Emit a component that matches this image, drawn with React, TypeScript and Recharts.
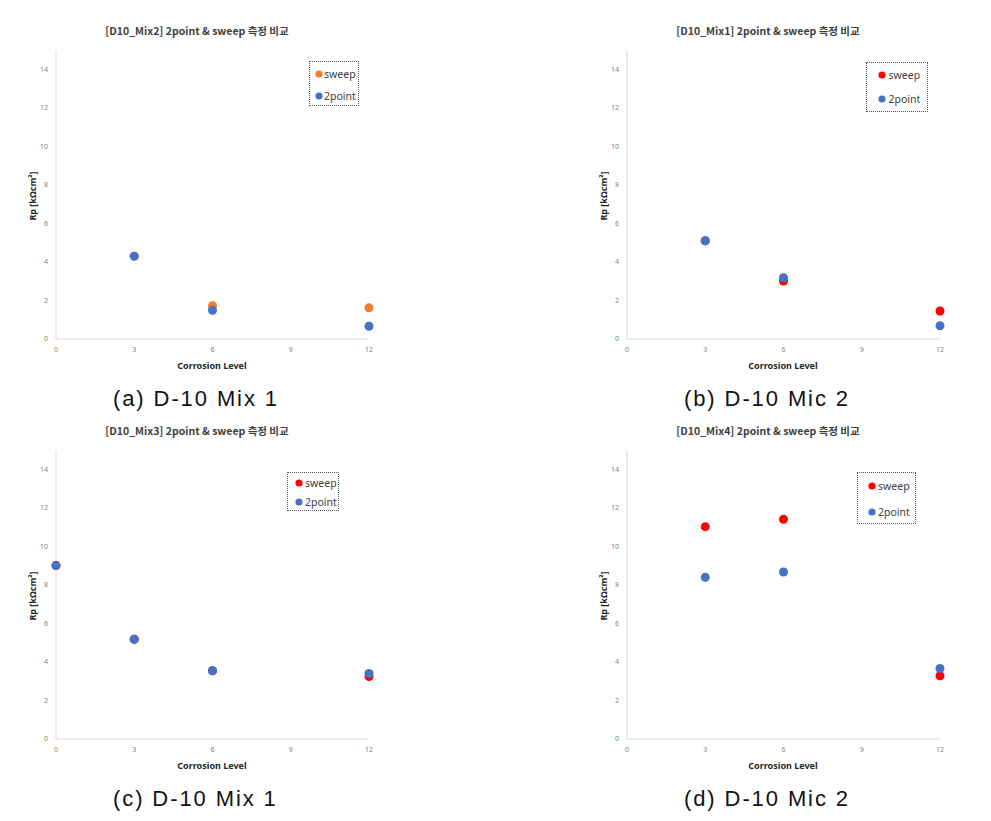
import React from "react";
import { ScatterChart, Scatter, XAxis, YAxis, ZAxis, Legend } from "recharts";

// corrosion level (x) and Rp values (y)
const levelsA = [3, 6, 12];
const sweepA = [4.3, 1.73, 1.62];
const twoPointA = [4.3, 1.49, 0.66];

const levelsB = [3, 6, 12];
const sweepB = [5.1, 3.01, 1.45];
const twoPointB = [5.1, 3.18, 0.69];

const levelsC = [0, 3, 6, 12];
const sweepC = [9.0, 5.18, 3.54, 3.24];
const twoPointC = [9.0, 5.18, 3.54, 3.4];

const levelsD = [3, 6, 12];
const sweepD = [11.02, 11.4, 3.28];
const twoPointD = [8.39, 8.67, 3.66];

const seriesNames = ["sweep", "2point"];
const xTicks = [0, 3, 6, 9, 12];
const yTicks = [0, 2, 4, 6, 8, 10, 12, 14];

const BLUE = "#4472C4";
const RED = "#FF0000";
const ORANGE = "#ED7D31";

const toPoints = (xs: number[], ys: number[]) => xs.map((x, i) => ({ x, y: ys[i] }));

interface LegendCfg {
  left: number;
  top: number;
  w: number;
  h: number;
  dotX: number;
  rows: number[];
  textX: number;
}

interface PanelCfg {
  key: string;
  left: number;
  top: number;
  title: string;
  caption: string;
  levels: number[];
  sweep: number[];
  twoPoint: number[];
  sweepColor: string;
  dotArea: number;
  legend: LegendCfg;
}

const panels: PanelCfg[] = [
  {
    key: "a", left: 0, top: 0,
    title: "[D10_Mix2] 2point & sweep 측정 비교",
    caption: "(a) D-10 Mix 1",
    levels: levelsA, sweep: sweepA, twoPoint: twoPointA,
    sweepColor: ORANGE, dotArea: 88,
    legend: { left: 309, top: 61, w: 50, h: 45, dotX: 318, rows: [72.5, 95], textX: 323 },
  },
  {
    key: "b", left: 571, top: 0,
    title: "[D10_Mix1] 2point & sweep 측정 비교",
    caption: "(b) D-10 Mic 2",
    levels: levelsB, sweep: sweepB, twoPoint: twoPointB,
    sweepColor: RED, dotArea: 38,
    legend: { left: 295, top: 62, w: 62, h: 50, dotX: 310, rows: [74, 98], textX: 316.5 },
  },
  {
    key: "c", left: 0, top: 400,
    title: "[D10_Mix3] 2point & sweep 측정 비교",
    caption: "(c) D-10 Mix 1",
    levels: levelsC, sweep: sweepC, twoPoint: twoPointC,
    sweepColor: RED, dotArea: 43,
    legend: { left: 287, top: 72, w: 52, h: 39, dotX: 297.5, rows: [81.7, 101.3], textX: 304 },
  },
  {
    key: "d", left: 571, top: 400,
    title: "[D10_Mix4] 2point & sweep 측정 비교",
    caption: "(d) D-10 Mic 2",
    levels: levelsD, sweep: sweepD, twoPoint: twoPointD,
    sweepColor: RED, dotArea: 43,
    legend: { left: 286, top: 72, w: 59, h: 52, dotX: 299.5, rows: [85.3, 111], textX: 306 },
  },
];

const tickStyle = { fontSize: 7, fill: "#7f7f7f", fontFamily: "Noto Sans" };

const makeLegend = (cfg: LegendCfg) => (props: any) => {
  // keep the series order of the original legend (sweep first)
  const items = [...(props.payload || [])].sort(
    (a: any, b: any) => seriesNames.indexOf(a.value) - seriesNames.indexOf(b.value)
  );
  return (
    <div
      style={{
        position: "relative",
        width: cfg.w,
        height: cfg.h,
        boxSizing: "border-box",
        border: "1px dotted #555",
        background: "#fff",
      }}
    >
      {items.map((entry: any, i: number) => (
        <div key={entry.value}>
          <svg
            width={8}
            height={8}
            style={{ position: "absolute", left: cfg.dotX - cfg.left - 4, top: cfg.rows[i] - cfg.top - 4 }}
          >
            <circle cx={4} cy={4} r={3.6} fill={entry.color} />
          </svg>
          <span
            style={{
              position: "absolute",
              left: cfg.textX - cfg.left,
              top: cfg.rows[i] - cfg.top - 8,
              lineHeight: "16px",
              fontSize: 10.5,
              fontFamily: "Noto Sans",
              color: "#404040",
              whiteSpace: "nowrap",
            }}
          >
            {entry.value}
          </span>
        </div>
      ))}
    </div>
  );
};

function Panel({ p }: { p: PanelCfg }) {
  return (
    <div style={{ position: "absolute", left: p.left, top: p.top, width: 420, height: 420 }}>
      <div
        style={{
          position: "absolute", left: 0, width: 394, top: 24, textAlign: "center",
          fontFamily: "Noto Sans CJK KR", fontWeight: 700, fontSize: 10.5, lineHeight: "14px", color: "#404040",
          whiteSpace: "nowrap",
        }}
      >
        {p.title}
      </div>
      <ScatterChart width={420} height={375} margin={{ top: 50, right: 51, bottom: 20, left: 36 }}>
        <XAxis
          type="number" dataKey="x" domain={[0, 12]} ticks={xTicks}
          height={16} tickLine={false} stroke="#d9d9d9" tick={tickStyle}
        />
        <YAxis
          type="number" dataKey="y" domain={[0, 15]} ticks={yTicks}
          width={20} tickLine={false} stroke="#d9d9d9" tick={tickStyle}
        />
        <ZAxis range={[p.dotArea, p.dotArea]} />
        <Legend
          layout="vertical" align="center" verticalAlign="middle"
          wrapperStyle={{ left: p.legend.left, top: p.legend.top, width: p.legend.w, height: p.legend.h }}
          content={makeLegend(p.legend)}
        />
        <Scatter name={seriesNames[0]} data={toPoints(p.levels, p.sweep)} fill={p.sweepColor} isAnimationActive={false} />
        <Scatter name={seriesNames[1]} data={toPoints(p.levels, p.twoPoint)} fill={BLUE} isAnimationActive={false} />
      </ScatterChart>
      <div
        style={{
          position: "absolute", left: 32, top: 196, transform: "translate(-50%, -50%) rotate(-90deg)",
          fontFamily: "Noto Sans", fontWeight: 700, fontSize: 9, color: "#262626", whiteSpace: "nowrap",
        }}
      >
        Rp [kΩcm²]
      </div>
      <div
        style={{
          position: "absolute", left: 212, top: 365, transform: "translate(-50%, -50%)",
          fontFamily: "Noto Sans", fontWeight: 700, fontSize: 9, color: "#262626", whiteSpace: "nowrap",
        }}
      >
        Corrosion Level
      </div>
      <div
        style={{
          position: "absolute", left: 113, top: 385,
          fontFamily: "Liberation Sans", fontSize: 22, letterSpacing: 1.9, lineHeight: "28px", color: "#111",
          whiteSpace: "nowrap",
        }}
      >
        {p.caption}
      </div>
    </div>
  );
}

export default function App() {
  return (
    <div
      style={{
        position: "absolute", left: 0, top: 0, width: 991, height: 821,
        background: "#fff", overflow: "hidden",
      }}
    >
      {panels.map((p) => (
        <Panel key={p.key} p={p} />
      ))}
    </div>
  );
}
